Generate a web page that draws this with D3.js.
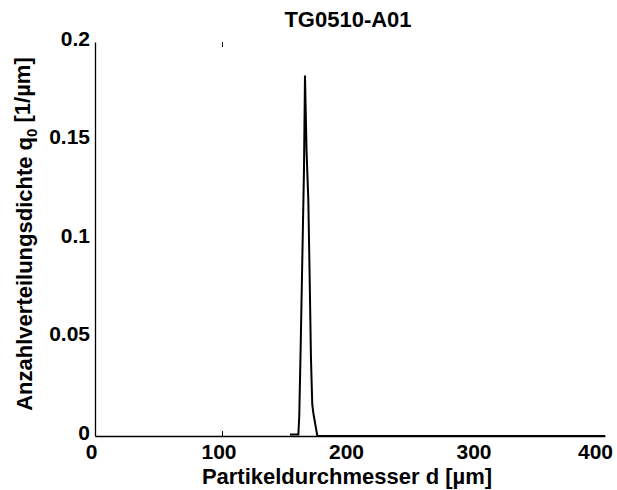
<!DOCTYPE html>
<html>
<head>
<meta charset="utf-8">
<script src="https://cdn.jsdelivr.net/npm/d3@7"></script>
<style>
  body { margin: 0; background: #fff; }
  text { font-family: "Liberation Sans", Arial, sans-serif; font-weight: bold; fill: #000; }
</style>
</head>
<body>
<div id="chart"></div>
<script>
// particle diameter (µm) and number density q0 (1/µm)
let diameters = [152.9, 159.5, 160.2, 161.3, 162.6, 163.9, 164.7, 165.9, 167.3, 168.4, 169.4, 170.4, 171.4, 172.5, 173.3, 174.4, 400];
let density = [0.0007, 0.0007, 0.01, 0.045, 0.09, 0.135, 0.183, 0.145, 0.12, 0.079, 0.039, 0.016, 0.011, 0.007, 0.004, 0, 0];

let xTicks = [0, 100, 200, 300, 400];
let yTicks = [0, 0.05, 0.1, 0.15, 0.2];
let yTickLabels = ['0', '0.05', '0.1', '0.15', '0.2'];

let W = 617, H = 490;
let margin = { top: 42, left: 95, right: 12, bottom: 54 };

let svg = d3.select('#chart')
  .append('svg')
  .attr('width', W)
  .attr('height', H);

let xScale = d3.scaleLinear()
  .domain([0, 400])
  .range([margin.left, W - margin.right]);

let yScale = d3.scaleLinear()
  .domain([0, 0.2])
  .range([H - margin.bottom, margin.top]);

// x axis
let xAxis = svg.append('g')
  .attr('transform', `translate(0,${H - margin.bottom})`)
  .call(d3.axisBottom(xScale).tickValues(xTicks).tickSize(0).tickSizeOuter(0).tickPadding(8).tickFormat(d3.format('d')));
xAxis.select('.domain').attr('stroke', '#000').attr('stroke-width', 1.3);
xAxis.selectAll('text')
  .style('font-size', '21px')
  .attr('dx', function(d) { return d == 400 ? '-10' : '-4'; });

// y axis
let yAxis = svg.append('g')
  .attr('transform', `translate(${margin.left},0)`)
  .call(d3.axisLeft(yScale).tickValues(yTicks).tickSize(0).tickSizeOuter(0).tickPadding(5)
    .tickFormat(function(d, i) { return yTickLabels[i]; }));
yAxis.select('.domain').attr('stroke', '#000').attr('stroke-width', 1.3);
yAxis.selectAll('text').style('font-size', '21px').attr('dy', '0.15em');

// the only visible tick marks (at 100, top and bottom)
svg.append('line')
  .attr('x1', xScale(100)).attr('x2', xScale(100))
  .attr('y1', yScale(0)).attr('y2', yScale(0) - 5)
  .attr('stroke', '#000');
svg.append('line')
  .attr('x1', xScale(100)).attr('x2', xScale(100))
  .attr('y1', yScale(0.2)).attr('y2', yScale(0.2) + 5)
  .attr('stroke', '#000');

// density curve
let points = diameters.map(function(d, i) { return [d, density[i]]; });
let line = d3.line()
  .x(function(d) { return xScale(d[0]); })
  .y(function(d) { return yScale(d[1]); });

svg.append('path')
  .datum(points)
  .attr('d', line)
  .attr('fill', 'none')
  .attr('stroke', '#000')
  .attr('stroke-width', 2)
  .attr('stroke-linejoin', 'miter');

// title
svg.append('text')
  .attr('x', 348)
  .attr('y', 27)
  .attr('text-anchor', 'middle')
  .style('font-size', '22px')
  .text('TG0510-A01');

// x label
svg.append('text')
  .attr('x', 347)
  .attr('y', 484)
  .attr('text-anchor', 'middle')
  .style('font-size', '22px')
  .text('Partikeldurchmesser d [µm]');

// y label
let yLabel = svg.append('text')
  .attr('transform', 'translate(32,234) rotate(-90)')
  .attr('text-anchor', 'middle')
  .style('font-size', '22px');
yLabel.append('tspan').text('Anzahlverteilungsdichte q');
yLabel.append('tspan').attr('dy', '0.3em').style('font-size', '15px').text('0');
yLabel.append('tspan').attr('dy', '-0.3em').text(' [1/µm]');
</script>
</body>
</html>
